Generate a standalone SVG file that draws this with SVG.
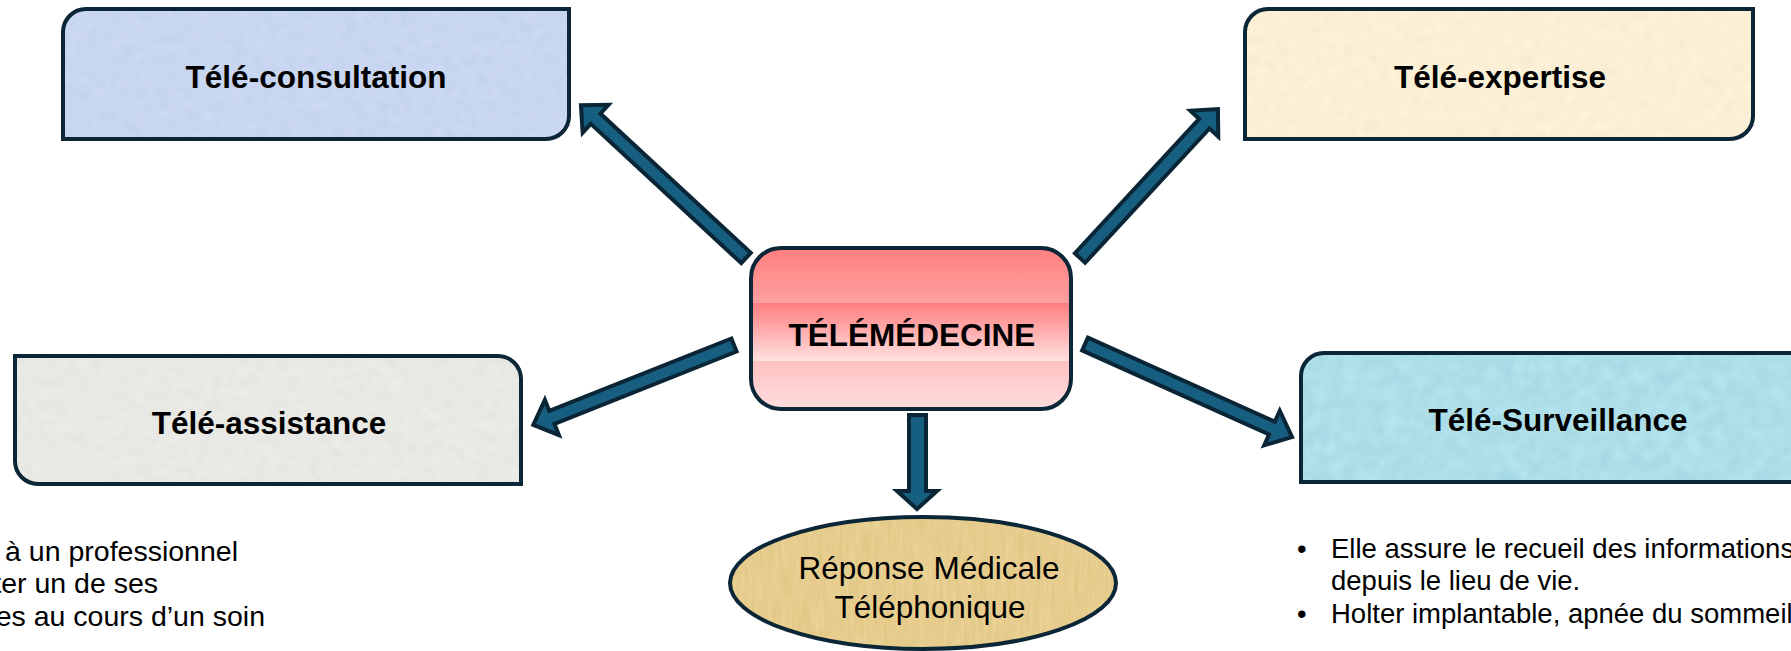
<svg xmlns="http://www.w3.org/2000/svg" width="1791" height="651" viewBox="0 0 1791 651">
  <defs>
    <linearGradient id="gCenter" x1="0" y1="0" x2="0" y2="1">
      <stop offset="0" stop-color="#FF7F7F"/>
      <stop offset="1" stop-color="#FFDDDD"/>
    </linearGradient>
    <linearGradient id="gBand" x1="0" y1="0" x2="0" y2="1">
      <stop offset="0" stop-color="#FF7E7E"/>
      <stop offset="1" stop-color="#FFE0E0"/>
    </linearGradient>
    <filter id="grain">
      <feTurbulence type="fractalNoise" baseFrequency="0.09" numOctaves="3" seed="4" result="n"/>
      <feColorMatrix in="n" type="matrix" values="0.33 0.33 0.33 0 0  0.33 0.33 0.33 0 0  0.33 0.33 0.33 0 0  0 0 0 0 1" result="g"/>
      <feComposite in="SourceGraphic" in2="g" operator="arithmetic" k1="0" k2="1" k3="0.14" k4="-0.07" result="m"/>
      <feComposite in="m" in2="SourceGraphic" operator="in"/>
    </filter>
    <filter id="drops">
      <feTurbulence type="fractalNoise" baseFrequency="0.07" numOctaves="2" seed="9" result="n"/>
      <feColorMatrix in="n" type="matrix" values="0.33 0.33 0.33 0 0  0.33 0.33 0.33 0 0  0.33 0.33 0.33 0 0  0 0 0 0 1" result="g"/>
      <feComposite in="SourceGraphic" in2="g" operator="arithmetic" k1="0" k2="1" k3="0.22" k4="-0.11" result="m"/>
      <feComposite in="m" in2="SourceGraphic" operator="in"/>
    </filter>
    <filter id="papyrus">
      <feTurbulence type="fractalNoise" baseFrequency="0.25 0.03" numOctaves="2" seed="2" result="n"/>
      <feColorMatrix in="n" type="matrix" values="0.33 0.33 0.33 0 0  0.33 0.33 0.33 0 0  0.33 0.33 0.33 0 0  0 0 0 0 1" result="g"/>
      <feComposite in="SourceGraphic" in2="g" operator="arithmetic" k1="0" k2="1" k3="0.18" k4="-0.09" result="m"/>
      <feComposite in="m" in2="SourceGraphic" operator="in"/>
    </filter>
    <style>
      .box { stroke: #0B2636; stroke-width: 4; }
      .edge { fill: none; stroke: #0B2636; stroke-width: 4; }
      .arrow { fill: #175F80; stroke: #0A2535; stroke-width: 4; stroke-linejoin: miter; }
      .lbl { font-family: "Liberation Sans", Arial, sans-serif; font-weight: bold; font-size: 31.5px; fill: #000; text-anchor: middle; }
      .body { font-family: "Liberation Sans", Arial, sans-serif; font-size: 27.5px; fill: #000; }
      .left { font-size: 28.5px; text-anchor: end; }
      .ell { font-family: "Liberation Sans", Arial, sans-serif; font-size: 31.5px; fill: #000; text-anchor: middle; }
    </style>
  </defs>
  <rect width="1791" height="651" fill="#FFFFFF"/>

  <g id="connectors">
    <path class="arrow" d="M0,-7 H205 V-19 L225,0 L205,19 V7 H0 Z" transform="translate(746,258) rotate(-137.2)"/>
    <path class="arrow" d="M0,-7 H183 V-19 L203,0 L183,19 V7 H0 Z" transform="translate(1080,258) rotate(-47.2)"/>
    <path class="arrow" d="M0,-7 H196 V-19 L216,0 L196,19 V7 H0 Z" transform="translate(734,345) rotate(158.3)"/>
    <path class="arrow" d="M0,-7 H205 V-19 L227,0 L205,19 V7 H0 Z" transform="translate(1085,344) rotate(24.2)"/>
    <path class="arrow" d="M909,415 H926 V491 H937 L917,509 L897,491 H909 Z"/>
  </g>

  <g id="tele-consultation">
    <path fill="#C9D6F1" filter="url(#grain)" d="M86,9 H569 V116 A23,23 0 0 1 546,139 H63 V32 A23,23 0 0 1 86,9 Z"/>
    <path class="edge" d="M86,9 H569 V116 A23,23 0 0 1 546,139 H63 V32 A23,23 0 0 1 86,9 Z"/>
    <text class="lbl" x="316" y="88">Télé-consultation</text>
  </g>

  <g id="tele-expertise">
    <path fill="#FBF0D6" filter="url(#grain)" d="M1268,9 H1753 V116 A23,23 0 0 1 1730,139 H1245 V32 A23,23 0 0 1 1268,9 Z"/>
    <path class="edge" d="M1268,9 H1753 V116 A23,23 0 0 1 1730,139 H1245 V32 A23,23 0 0 1 1268,9 Z"/>
    <text class="lbl" x="1500" y="88">Télé-expertise</text>
  </g>

  <g id="telemedecine">
    <rect class="box" x="751" y="248" width="320" height="161" rx="30" ry="30" fill="url(#gCenter)"/>
    <rect x="753" y="303" width="316" height="58" fill="url(#gBand)"/>
    <text class="lbl" x="912" y="346" font-size="32">TÉLÉMÉDECINE</text>
  </g>

  <g id="tele-assistance">
    <path fill="#E8E8E5" filter="url(#grain)" d="M15,356 H498 A23,23 0 0 1 521,379 V484 H38 A23,23 0 0 1 15,461 Z"/>
    <path class="edge" d="M15,356 H498 A23,23 0 0 1 521,379 V484 H38 A23,23 0 0 1 15,461 Z"/>
    <text class="lbl" x="269" y="434">Télé-assistance</text>
  </g>

  <g id="tele-surveillance">
    <path fill="#AEDFE9" filter="url(#drops)" d="M1324,353 H1800 V482 H1301 V376 A23,23 0 0 1 1324,353 Z"/>
    <path class="edge" d="M1324,353 H1800 V482 H1301 V376 A23,23 0 0 1 1324,353 Z"/>
    <text class="lbl" x="1558" y="431">Télé-Surveillance</text>
  </g>

  <g id="reponse-medicale">
    <ellipse fill="#E6CD8E" filter="url(#papyrus)" cx="923" cy="583" rx="193" ry="66"/>
    <ellipse class="edge" cx="923" cy="583" rx="193" ry="66"/>
    <text class="ell" x="929" y="579">Réponse Médicale</text>
    <text class="ell" x="930" y="618">Téléphonique</text>
  </g>

  <g id="assistance-notes">
    <text class="body left" x="238" y="561">à un professionnel</text>
    <text class="body left" x="158" y="593">ter un de ses</text>
    <text class="body left" x="265" y="626">es au cours d’un soin</text>
  </g>

  <g id="surveillance-notes">
    <text class="body" x="1297" y="558">•</text>
    <text class="body" x="1331" y="558">Elle assure le recueil des informations</text>
    <text class="body" x="1331" y="590">depuis le lieu de vie.</text>
    <text class="body" x="1297" y="623">•</text>
    <text class="body" x="1331" y="623">Holter implantable, apnée du sommeil</text>
  </g>
</svg>
